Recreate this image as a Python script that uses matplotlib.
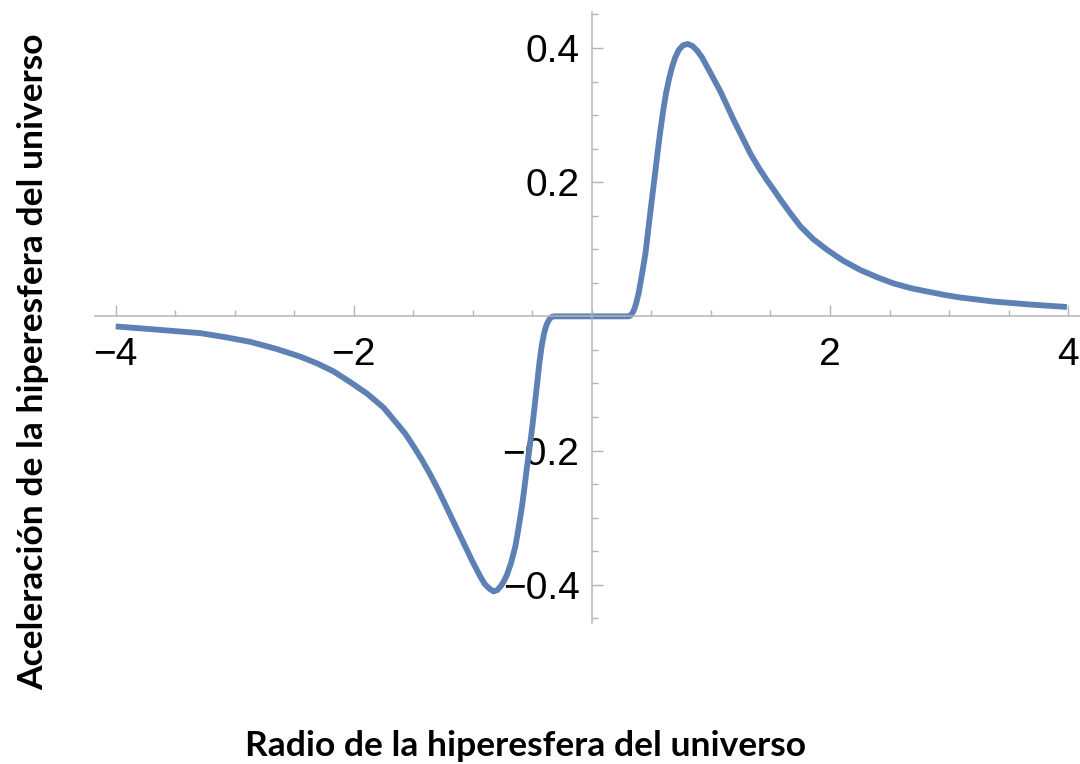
import numpy as np
import matplotlib.pyplot as plt
from matplotlib.ticker import MultipleLocator, FixedLocator

# radio (x) y aceleracion (y)
r_left = [-4.0, -3.71, -3.5, -3.29, -3.08, -2.87, -2.66, -2.45, -2.31, -2.17,
          -2.03, -1.89, -1.75, -1.637, -1.567, -1.497, -1.427, -1.357, -1.287, -1.217,
          -1.147, -1.077, -1.007, -0.937, -0.90, -0.86, -0.825, -0.795, -0.765,
          -0.74, -0.713, -0.68, -0.643, -0.615, -0.587, -0.565, -0.545, -0.522,
          -0.50, -0.48, -0.46, -0.44, -0.42, -0.40, -0.382, -0.36, -0.34, -0.32]
a_left = [-0.015, -0.019, -0.022, -0.025, -0.031, -0.038, -0.048, -0.060, -0.070, -0.082,
          -0.098, -0.115, -0.136, -0.160, -0.175, -0.194, -0.214, -0.236, -0.260, -0.286,
          -0.312, -0.338, -0.364, -0.388, -0.399, -0.406, -0.410, -0.408, -0.402,
          -0.395, -0.385, -0.368, -0.343, -0.314, -0.283, -0.253, -0.224, -0.194,
          -0.164, -0.132, -0.100, -0.068, -0.042, -0.024, -0.013, -0.005, -0.001, 0.0]

r_mid = [-0.32, 0.0, 0.31]
a_mid = [0.0, 0.0, 0.0]

r_right = [0.31, 0.33, 0.35, 0.37, 0.393, 0.42, 0.45, 0.47, 0.49, 0.512, 0.534, 0.555,
           0.576, 0.60, 0.623, 0.648, 0.674, 0.70, 0.73, 0.765, 0.805, 0.845, 0.884,
           0.925, 0.968, 1.02, 1.08, 1.135, 1.19, 1.26, 1.33, 1.40, 1.47, 1.53, 1.584,
           1.67, 1.752, 1.86, 1.977, 2.11, 2.256, 2.40, 2.536, 2.68, 2.817, 2.96, 3.097,
           3.24, 3.376, 3.52, 3.657, 3.82, 3.99]
a_right = [0.0, 0.002, 0.008, 0.018, 0.035, 0.062, 0.094, 0.124, 0.154, 0.186, 0.218, 0.249,
           0.278, 0.308, 0.333, 0.354, 0.372, 0.386, 0.397, 0.404, 0.406, 0.403, 0.396,
           0.386, 0.372, 0.355, 0.335, 0.314, 0.293, 0.268, 0.243, 0.222, 0.203, 0.188, 0.174,
           0.153, 0.134, 0.115, 0.099, 0.083, 0.069, 0.058, 0.049, 0.042, 0.037, 0.032, 0.028,
           0.025, 0.022, 0.020, 0.018, 0.016, 0.014]

r = np.array(r_left + r_mid[1:] + r_right[1:])
a = np.array(a_left + a_mid[1:] + a_right[1:])

xticks = [-4, -2, 2, 4]
xlabels = ['\u22124', '\u22122', '2', '4']
yticks = [-0.4, -0.2, 0.2, 0.4]
ylabels = ['\u22120.4', '\u22120.2', '0.2', '0.4']

axis_col = '#b5b5b5'

fig = plt.figure(figsize=(10.8, 7.64), dpi=100)
ax = fig.add_axes([0.0884, 0.1846, 0.9116, 0.800])

ax.plot(r, a, color='#5e81b5', lw=4.2, solid_capstyle='butt', solid_joinstyle='round')

ax.set_xlim(-4.17, 4.1)
ax.set_ylim(-0.457, 0.454)

for s in ['top', 'right']:
    ax.spines[s].set_visible(False)
ax.spines['left'].set_position(('data', 0))
ax.spines['bottom'].set_position(('data', 0))
for s in ['left', 'bottom']:
    ax.spines[s].set_color(axis_col)
    ax.spines[s].set_linewidth(1.1)

ax.xaxis.set_major_locator(FixedLocator(xticks))
ax.set_xticklabels(xlabels)
ax.xaxis.set_minor_locator(MultipleLocator(0.5))
ax.yaxis.set_major_locator(FixedLocator(yticks))
ax.set_yticklabels(ylabels)
ax.yaxis.set_minor_locator(MultipleLocator(0.05))

ax.tick_params(which='both', direction='in', color=axis_col, width=1.0)
ax.tick_params(which='major', length=8)
ax.tick_params(which='minor', length=4.5)
ax.tick_params(axis='x', which='major', pad=15)
ax.tick_params(axis='y', which='major', pad=9)
for lab in ax.get_xticklabels() + ax.get_yticklabels():
    lab.set_fontfamily('Liberation Sans')
    lab.set_fontsize(28)

fig.text(0.487, 1 - 746/764, 'Radio de la hiperesfera del universo',
         ha='center', va='center', fontsize=25.5, fontweight='bold', family='Lato')
fig.text(33/1080, 1 - 362/764, 'Aceleración de la hiperesfera del universo',
         ha='center', va='center', rotation=90, fontsize=25.5, fontweight='bold', family='Lato')

fig.savefig('out.png', dpi=100)
